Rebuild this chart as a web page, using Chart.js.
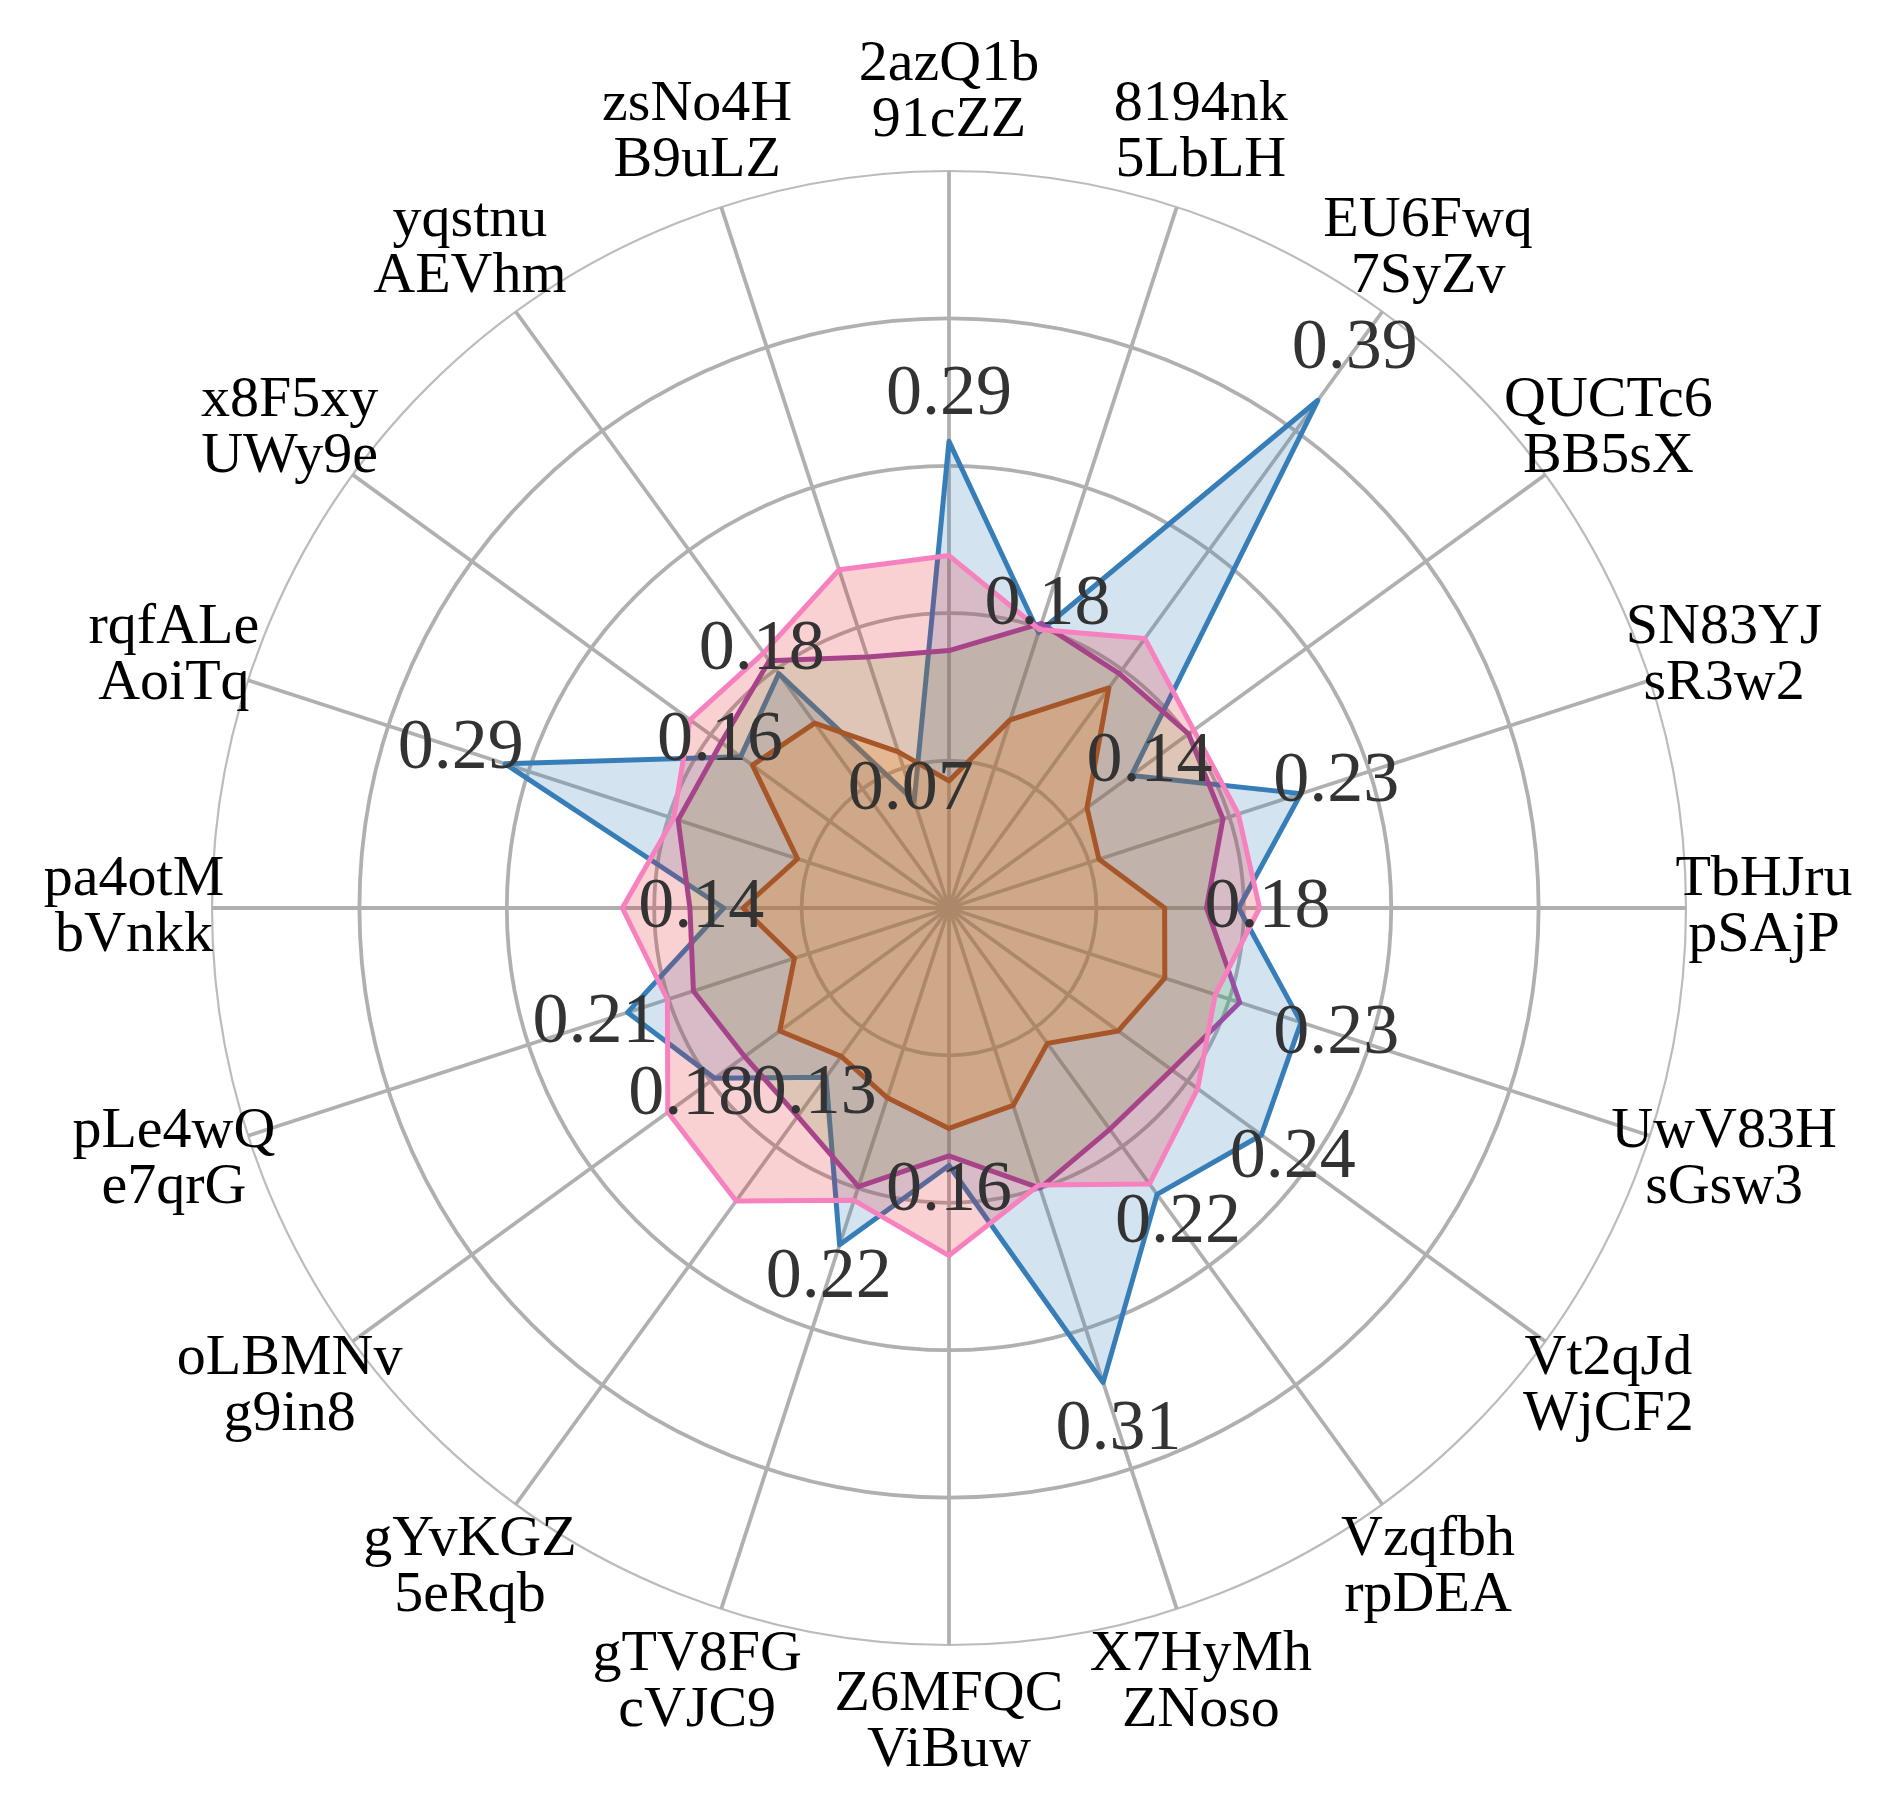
<!DOCTYPE html>
<html>
<head>
<meta charset="utf-8">
<script src="https://cdn.jsdelivr.net/npm/chart.js@4.4.1/dist/chart.umd.min.js"></script>
<style>
html,body{margin:0;padding:0;background:#ffffff;overflow:hidden}
canvas{display:block}
</style>
</head>
<body>
<canvas id="c" width="1901" height="1817"></canvas>
<script>
const categories = [
  ['2azQ1b','91cZZ'], ['8194nk','5LbLH'], ['EU6Fwq','7SyZv'], ['QUCTc6','BB5sX'],
  ['SN83YJ','sR3w2'], ['TbHJru','pSAjP'], ['UwV83H','sGsw3'], ['Vt2qJd','WjCF2'],
  ['Vzqfbh','rpDEA'], ['X7HyMh','ZNoso'], ['Z6MFQC','ViBuw'], ['gTV8FG','cVJC9'],
  ['gYvKGZ','5eRqb'], ['oLBMNv','g9in8'], ['pLe4wQ','e7qrG'], ['pa4otM','bVnkk'],
  ['rqfALe','AoiTq'], ['x8F5xy','UWy9e'], ['yqstnu','AEVhm'], ['zsNo4H','B9uLZ']
];
const seriesBlue   = [0.29,0.18,0.39,0.14,0.23,0.18,0.23,0.24,0.22,0.31,0.16,0.22,0.13,0.18,0.21,0.14,0.29,0.16,0.18,0.07];
const seriesPink   = [0.219,0.182,0.207,0.188,0.189,0.193,0.174,0.191,0.212,0.181,0.216,0.191,0.225,0.216,0.184,0.203,0.180,0.199,0.196,0.221];
const seriesPurple = [0.160,0.186,0.180,0.184,0.179,0.160,0.190,0.171,0.170,0.183,0.154,0.182,0.160,0.157,0.167,0.161,0.177,0.175,0.190,0.164];
const seriesBrown  = [0.079,0.123,0.169,0.106,0.098,0.134,0.141,0.130,0.104,0.129,0.137,0.124,0.114,0.130,0.101,0.128,0.099,0.151,0.142,0.102];
const rMax = 0.458;
const rTicks = [0, 0.0916, 0.1832, 0.2748, 0.3664, 0.458];

const labelPlugin = {
  id: 'labelPlugin',
  afterDatasetsDraw(chart) {
    const scale = chart.scales.r;
    const ctx = chart.ctx;
    ctx.save();
    ctx.textAlign = 'center';
    ctx.textBaseline = 'middle';
    ctx.font = '72px "Liberation Serif"';
    ctx.fillStyle = '#333333';
    seriesBlue.forEach((v, i) => {
      const p = scale.getPointPositionForValue(i, v * 1.1);
      ctx.fillText(v.toFixed(2), p.x, p.y);
    });
    ctx.font = '58px "Liberation Serif"';
    ctx.fillStyle = '#000000';
    const lh = 56;
    categories.forEach((lines, i) => {
      const p = scale.getPointPosition(i, scale.drawingArea + 78);
      lines.forEach((t, j) => {
        ctx.fillText(t, p.x, p.y + (j - (lines.length - 1) / 2) * lh);
      });
    });
    ctx.restore();
  }
};

const mk = (data, line, fill, order) => ({
  data, borderColor: line, backgroundColor: fill, fill: 'origin',
  borderWidth: 5, borderJoinStyle: 'round', pointRadius: 0, pointHoverRadius: 0, tension: 0, order
});

new Chart(document.getElementById('c'), {
  type: 'radar',
  data: {
    labels: categories,
    datasets: [
      mk(seriesBlue,   '#377eb8', 'rgba(55,126,184,0.22)', 4),
      mk(seriesPink,   '#f781bf', 'rgba(228,26,28,0.2)', 2),
      mk(seriesPurple, '#984ea3', 'rgba(77,175,74,0.2)', 3),
      mk(seriesBrown,  '#a65628', 'rgba(255,127,0,0.2)', 1)
    ]
  },
  options: {
    responsive: false,
    animation: false,
    devicePixelRatio: 1,
    layout: { padding: { left: 212, right: 215, top: 171, bottom: 172 } },
    plugins: { legend: { display: false }, tooltip: { enabled: false } },
    scales: {
      r: {
        min: 0, max: rMax,
        afterBuildTicks: (s) => { s.ticks = rTicks.map(v => ({ value: v })); },
        ticks: { display: false },
        pointLabels: { display: false },
        grid: {
          circular: true,
          color: (c) => c.index === rTicks.length - 1 ? '#bcbcbc' : '#b0b0b0',
          lineWidth: (c) => c.index === rTicks.length - 1 ? 2.2 : 3.8
        },
        angleLines: { color: '#b0b0b0', lineWidth: 3.8 }
      }
    }
  },
  plugins: [labelPlugin]
});
</script>
</body>
</html>
